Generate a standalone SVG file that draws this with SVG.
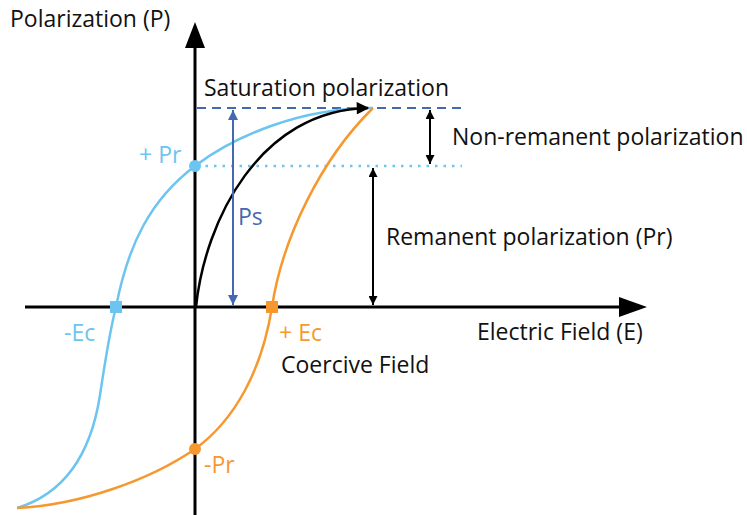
<svg xmlns="http://www.w3.org/2000/svg" width="747" height="515" viewBox="0 0 747 515">
<style>
text{font-family:"Open Sans","Noto Sans",sans-serif;font-size:23px;fill:#111}
.lb{fill:#6cc5f0}.or{fill:#f7982f}.db{fill:#4569b0}
.curve{fill:none;stroke-width:2.5}
</style>
<defs>
<marker id="ah" viewBox="0 0 10 10" refX="10" refY="5" markerWidth="5" markerHeight="4.5" orient="auto-start-reverse" markerUnits="strokeWidth"><path d="M0,0L10,5L0,10z" fill="#000"/></marker>
<marker id="ahb" viewBox="0 0 10 10" refX="10" refY="5" markerWidth="6" markerHeight="5" orient="auto-start-reverse" markerUnits="strokeWidth"><path d="M0,0L10,5L0,10z" fill="#4569b0"/></marker>
<marker id="ahc" viewBox="0 0 10 10" refX="9" refY="5" markerWidth="6" markerHeight="5" orient="auto" markerUnits="strokeWidth"><path d="M0,0L10,5L0,10z" fill="#000"/></marker>
</defs>
<g id="axes">
<line x1="195" y1="515" x2="195" y2="45" stroke="#000" stroke-width="3"/>
<path d="M185,48L195,22L205,48z" fill="#000"/>
<line x1="25" y1="307" x2="622" y2="307" stroke="#000" stroke-width="3"/>
<path d="M619,297L647,307L619,317z" fill="#000"/>
</g>
<g id="guides">
<line x1="197" y1="108" x2="462" y2="108" stroke="#4569b0" stroke-width="2" stroke-dasharray="9,6"/>
<line x1="197" y1="166" x2="462" y2="166" stroke="#6cc5f0" stroke-width="2.5" stroke-dasharray="2.5,6"/>
</g>
<g id="connectors">
<path class="curve" stroke="#6cc5f0" d="M17,508 C60,495 90,460 100,395 C106,355 110,330 116,307 C128,245 150,200 195,166 C235,136 300,108 373,108"/>
<path class="curve" stroke="#f7982f" d="M17,508 C80,505 150,480 195,449 C235,420 262,370 272,307 C282,240 320,160 373,108"/>
<path class="curve" stroke="#000" d="M196,307 C205,220 260,110 368,108" marker-end="url(#ahc)"/>
<line x1="233" y1="110" x2="233" y2="305" stroke="#4569b0" stroke-width="2" marker-start="url(#ahb)" marker-end="url(#ahb)"/>
<line x1="430" y1="110" x2="430" y2="164" stroke="#000" stroke-width="2" marker-start="url(#ah)" marker-end="url(#ah)"/>
<line x1="373" y1="168" x2="373" y2="305" stroke="#000" stroke-width="2" marker-start="url(#ah)" marker-end="url(#ah)"/>
</g>
<g id="points">
<circle cx="195" cy="166" r="6" fill="#6cc5f0"/>
<rect x="110" y="301" width="12" height="12" fill="#6cc5f0"/>
<rect x="266" y="301" width="12" height="12" fill="#f7982f"/>
<circle cx="195" cy="449" r="6" fill="#f7982f"/>
</g>
<g id="labels">
<text x="10" y="27">Polarization (P)</text>
<text x="204" y="96">Saturation polarization</text>
<text x="452" y="145">Non-remanent polarization</text>
<text x="386" y="245">Remanent polarization (Pr)</text>
<text x="477" y="340">Electric Field (E)</text>
<text x="281" y="373">Coercive Field</text>
<text class="or" x="279" y="341">+ Ec</text>
<text class="lb" x="64" y="341">-Ec</text>
<text class="lb" x="139" y="163">+ Pr</text>
<text class="or" x="204" y="473">-Pr</text>
<text class="db" x="238" y="225">Ps</text>
</g>
</svg>
